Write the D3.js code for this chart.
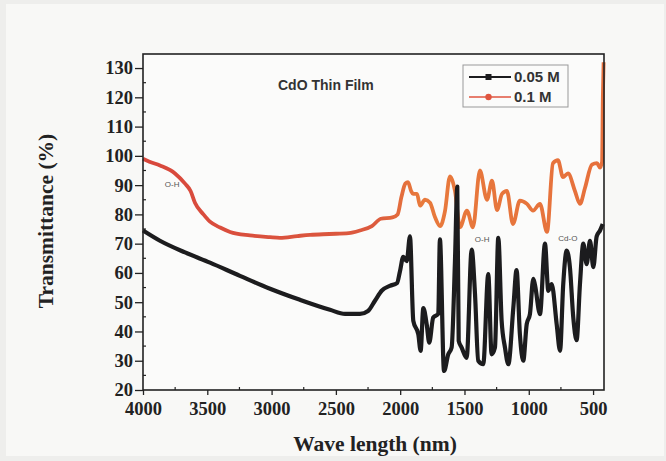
<!DOCTYPE html>
<html>
<head>
<meta charset="utf-8">
<script src="https://cdn.jsdelivr.net/npm/d3@7"></script>
<style>
  body { margin: 0; background: #eeeeec; }
  svg { display: block; }
</style>
</head>
<body>
<svg id="chart" width="666" height="461"></svg>
<script>
// 0.05 M film, wavelength (nm) vs transmittance (%)
const blackWave = [4000, 3868, 3673, 3479, 3246, 3012, 2779, 2546, 2429, 2313, 2250, 2196, 2142, 2080, 2025,
  2002, 1976, 1949, 1924, 1898, 1859, 1841, 1820, 1794, 1774, 1743, 1704, 1691, 1659, 1626, 1600, 1574,
  1556, 1545, 1522, 1483, 1444, 1418, 1393, 1354, 1315, 1289, 1263, 1237, 1211, 1185, 1159, 1120, 1095,
  1069, 1043, 1016, 991, 965, 952, 913, 874, 848, 822, 783, 757, 732, 705, 680, 654, 628, 602, 576, 550,
  524, 498, 472, 446, 425]
const blackT = [74.5, 71, 67, 63.5, 59, 54.6, 50.8, 47.4, 46, 46, 47, 50.5, 54, 55.6, 56.5,
  60.5, 65.5, 64, 72.5, 43.6, 39, 33.4, 48, 42.5, 36.2, 44.8, 46, 71.5, 26.5, 32.2, 34.5, 64,
  89.5, 36.8, 34.5, 31, 68, 52.7, 30, 28.8, 59.6, 32.2, 34.5, 72, 43.6, 34.5, 28.8, 48.2, 61,
  39, 30, 42.5, 45.9, 58, 56, 45.9, 70, 53.9, 56.2, 42.5, 33.4, 56.2, 67.6, 61.9, 44.8, 37, 56.2, 70, 63,
  71, 62, 72.5, 74.5, 76.7]

// 0.1 M film
const redWave = [4000, 3950, 3868, 3751, 3673, 3630, 3596, 3530, 3479, 3400, 3323, 3168, 3012, 2935, 2800,
  2700, 2550, 2400, 2313, 2220, 2150, 2060, 2020, 1990, 1960, 1939, 1915, 1900, 1869, 1846, 1807, 1768,
  1729, 1690, 1652, 1613, 1590, 1574, 1535, 1481, 1434, 1380, 1325, 1286, 1247, 1208, 1170, 1123, 1069,
  1014, 967, 913, 858, 812, 773, 734, 695, 641, 602, 563, 509, 470, 446, 430, 424, 418]
const redT = [99, 98, 96.7, 94, 90.5, 88, 84, 80, 77.5, 75.5, 74, 72.8, 72.2, 72, 72.6,
  73, 73.3, 73.6, 74.5, 76, 78.5, 79, 80, 86, 90.5, 91, 88, 87, 87, 83, 85, 84,
  79, 76, 81, 93, 91, 88, 75.6, 81.3, 75.6, 95, 85, 91.5, 81.5, 87, 88, 76.7, 84.7,
  83.6, 81.3, 83.6, 74, 97.5, 98.5, 92.7, 94, 88, 83.6, 89, 97, 97.5, 96, 98, 120, 132]

const xTicks = [4000, 3500, 3000, 2500, 2000, 1500, 1000, 500]
const yTicks = [20, 30, 40, 50, 60, 70, 80, 90, 100, 110, 120, 130]

const seriesNames = ['0.05 M', '0.1 M']

const svg = d3.select('#chart')

// scanned paper
svg.append('rect')
  .attr('x', 6).attr('y', 4).attr('width', 658).attr('height', 452)
  .style('fill', '#f8f8f6')

const plotLeft = 143
const plotRight = 604
const plotTop = 54
const plotBottom = 390

const x = d3.scaleLinear().domain([4000, 415]).range([plotLeft, plotRight])
const y = d3.scaleLinear().domain([20, 134.8]).range([plotBottom, plotTop])

svg.append('rect')
  .attr('x', plotLeft).attr('y', plotTop)
  .attr('width', plotRight - plotLeft).attr('height', plotBottom - plotTop)
  .style('fill', '#fbfbfa')

// red line fades to orange in the fingerprint region
let grad = svg.append('defs').append('linearGradient')
  .attr('id', 'redGrad')
  .attr('gradientUnits', 'userSpaceOnUse')
  .attr('x1', plotLeft).attr('x2', plotRight).attr('y1', 0).attr('y2', 0)
grad.append('stop').attr('offset', '0%').attr('stop-color', '#d8473c')
grad.append('stop').attr('offset', '50%').attr('stop-color', '#dc5a3e')
grad.append('stop').attr('offset', '60%').attr('stop-color', '#e87a3c')
grad.append('stop').attr('offset', '100%').attr('stop-color', '#e6703c')

const line = d3.line()
  .x(d => x(d[0]))
  .y(d => y(d[1]))
  .curve(d3.curveMonotoneX)

const blackData = blackWave.map((w, i) => [w, blackT[i]])
const redData = redWave.map((w, i) => [w, redT[i]])

svg.append('path')
  .datum(redData)
  .attr('d', line)
  .style('fill', 'none')
  .style('stroke', 'url(#redGrad)')
  .style('stroke-width', 3.8)
  .style('stroke-linejoin', 'round')

svg.append('path')
  .datum(blackData)
  .attr('d', line)
  .style('fill', 'none')
  .style('stroke', '#1c1c1e')
  .style('stroke-width', 4.2)
  .style('stroke-linejoin', 'round')

// frame
svg.append('rect')
  .attr('x', plotLeft).attr('y', plotTop)
  .attr('width', plotRight - plotLeft).attr('height', plotBottom - plotTop)
  .style('fill', 'none')
  .style('stroke', '#222')
  .style('stroke-width', 1.6)

// x axis
const xAxis = svg.append('g')
  .attr('transform', `translate(0,${plotBottom})`)
  .call(d3.axisBottom(x).tickValues(xTicks).tickSize(5).tickFormat(d3.format('d')))
xAxis.select('.domain').remove()
xAxis.selectAll('line').style('stroke', '#222').style('stroke-width', 1.3)
xAxis.selectAll('text')
  .attr('dy', '0.9em')
  .style('font-family', '"Liberation Serif", "Times New Roman", serif')
  .style('font-weight', 'bold')
  .style('font-size', '18.5px')
  .style('fill', '#222')

svg.append('g').selectAll('line')
  .data(d3.range(3750, 415, -500))
  .join('line')
  .attr('x1', d => x(d)).attr('x2', d => x(d))
  .attr('y1', plotBottom).attr('y2', plotBottom - 3)
  .style('stroke', '#222').style('stroke-width', 1.2)

// y axis
const yAxis = svg.append('g')
  .attr('transform', `translate(${plotLeft},0)`)
  .call(d3.axisLeft(y).tickValues(yTicks).tickSize(8))
yAxis.select('.domain').remove()
yAxis.selectAll('line').style('stroke', '#222').style('stroke-width', 1.3)
yAxis.selectAll('text')
  .attr('x', -10)
  .style('font-family', '"Liberation Serif", "Times New Roman", serif')
  .style('font-weight', 'bold')
  .style('font-size', '18.5px')
  .style('fill', '#222')

svg.append('g').selectAll('line')
  .data(d3.range(25, 134, 10))
  .join('line')
  .attr('x1', plotLeft).attr('x2', plotLeft + 3)
  .attr('y1', d => y(d)).attr('y2', d => y(d))
  .style('stroke', '#222').style('stroke-width', 1.2)

// axis titles
svg.append('text')
  .attr('x', 375).attr('y', 451)
  .attr('text-anchor', 'middle')
  .style('font-family', '"Liberation Serif", "Times New Roman", serif')
  .style('font-weight', 'bold')
  .style('font-size', '21.5px')
  .style('fill', '#222')
  .text('Wave length (nm)')

svg.append('text')
  .attr('transform', 'translate(53,221) rotate(-90)')
  .attr('text-anchor', 'middle')
  .style('font-family', '"Liberation Serif", "Times New Roman", serif')
  .style('font-weight', 'bold')
  .style('font-size', '21.5px')
  .style('fill', '#222')
  .text('Transmittance (%)')

// title inside plot
svg.append('text')
  .attr('x', 278).attr('y', 90)
  .style('font-family', '"Liberation Sans", Arial, sans-serif')
  .style('font-weight', 'bold')
  .style('font-size', '14px')
  .style('fill', '#333')
  .text('CdO Thin Film')

// band labels
const bandLabels = [
  { text: 'O-H', w: 3830, t: 89.5 },
  { text: 'O-H', w: 1420, t: 70.5 },
  { text: 'Cd-O', w: 770, t: 71 }
]
svg.append('g').selectAll('text')
  .data(bandLabels)
  .join('text')
  .attr('x', d => x(d.w)).attr('y', d => y(d.t))
  .style('font-family', '"Liberation Sans", Arial, sans-serif')
  .style('font-size', '8px')
  .style('fill', '#555')
  .text(d => d.text)

// legend
const legend = svg.append('g').attr('transform', 'translate(463,65)')
legend.append('rect')
  .attr('width', 105).attr('height', 42)
  .style('fill', '#fbfbfa')
  .style('stroke', '#999')
  .style('stroke-width', 1)

const legendColors = ['#1c1c1e', '#e0553f']
seriesNames.forEach((name, i) => {
  let row = legend.append('g').attr('transform', `translate(0,${12 + i * 20})`)
  row.append('line')
    .attr('x1', 6).attr('x2', 48)
    .style('stroke', legendColors[i])
    .style('stroke-width', i === 0 ? 1.8 : 1.4)
  if (i === 0) {
    row.append('rect')
      .attr('x', 22.5).attr('y', -3).attr('width', 6).attr('height', 6)
      .style('fill', legendColors[i])
  } else {
    row.append('circle')
      .attr('cx', 25.5).attr('r', 3.2)
      .style('fill', legendColors[i])
  }
  row.append('text')
    .attr('x', 51).attr('dy', '0.36em')
    .style('font-family', '"Liberation Sans", Arial, sans-serif')
    .style('font-weight', 'bold')
    .style('font-size', '15px')
    .style('fill', '#333')
    .text(name)
})
</script>
</body>
</html>
